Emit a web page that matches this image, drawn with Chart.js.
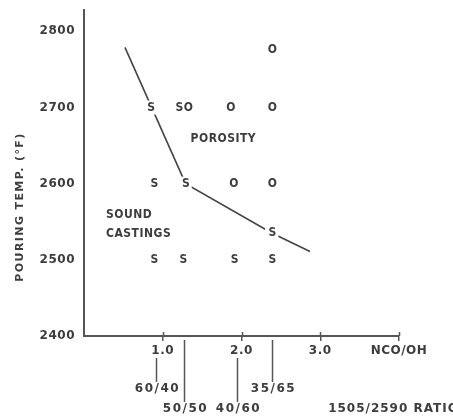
<!DOCTYPE html>
<html>
<head>
<meta charset="utf-8">
<script src="https://cdn.jsdelivr.net/npm/chart.js@4/dist/chart.umd.min.js"></script>
<style>
  html, body { margin: 0; padding: 0; background: #fff; }
  canvas { display: block; }
</style>
</head>
<body>
<canvas id="castChart" width="453" height="419"></canvas>
<script>
// sound castings (S)
const soundX = [0.85, 0.89, 1.29, 0.89, 1.26, 1.91, 2.39, 2.39];
const soundY = [2700, 2600, 2600, 2500, 2500, 2500, 2500, 2535];
// porous castings (O)
const porousX = [1.86, 2.39, 1.90, 2.39, 2.39];
const porousY = [2700, 2700, 2600, 2600, 2775];
// mixed result (SO)
const mixedX = [1.27];
const mixedY = [2700];
// boundary between sound and porous
const boundaryX = [0.52, 1.29, 2.39, 2.87];
const boundaryY = [2779, 2600, 2535, 2511];

// 1505/2590 ratios marked under the NCO/OH axis
const ratioX = [0.91, 1.27, 1.94, 2.39];
const ratioLabels = ['60/40', '50/50', '40/60', '35/65'];

const yTicks = [2400, 2500, 2600, 2700, 2800];
const xTicks = [1, 2, 3, 4];
const xTickLabels = ['1.0', '2.0', '3.0', 'NCO/OH'];

const regionText = [
    { text: 'POROSITY', x: 1.77, y: 2659, align: 'center' },
    { text: 'SOUND', x: 0.28, y: 2559, align: 'left' },
    { text: 'CASTINGS', x: 0.28, y: 2534, align: 'left' }
];

const INK = '#3d3d3d';
const WORD_FONT = 'bold 12px "DejaVu Sans Condensed", "DejaVu Sans", sans-serif';
const NUM_FONT = 'bold 12px "DejaVu Sans", sans-serif';

Chart.defaults.font.family = '"DejaVu Sans", sans-serif';
Chart.defaults.font.size = 12;
Chart.defaults.font.weight = 'bold';
Chart.defaults.color = INK;

const toPts = (xs, ys) => xs.map((x, i) => ({ x: x, y: ys[i] }));

// slightly spaced lettering for the tick numbers
const spacing = {
    id: 'spacing',
    beforeLayout(chart) { chart.ctx.letterSpacing = '0.5px'; },
    beforeDraw(chart) { chart.ctx.letterSpacing = '0.5px'; }
};

// letters S / O / SO drawn at each point position, plus the annotations
const letters = {
    id: 'letters',
    afterDatasetsDraw(chart) {
        const ctx = chart.ctx;
        const { x: xs, y: ys } = chart.scales;
        ctx.save();
        ctx.font = WORD_FONT;
        ctx.letterSpacing = '0.5px';
        ctx.textBaseline = 'middle';
        chart.data.datasets.forEach((ds, di) => {
            if (!ds.letter) return;
            chart.getDatasetMeta(di).data.forEach(pt => {
                const w = ctx.measureText(ds.letter).width;
                ctx.fillStyle = '#fff';
                ctx.fillRect(pt.x - w / 2 - 3, pt.y - 7, w + 5, 14);
                ctx.fillStyle = INK;
                ctx.textAlign = 'center';
                ctx.fillText(ds.letter, pt.x + 0.5, pt.y);
            });
        });
        regionText.forEach(r => {
            ctx.textAlign = r.align;
            ctx.fillText(r.text, xs.getPixelForValue(r.x), ys.getPixelForValue(r.y));
        });

        // y axis title
        ctx.save();
        ctx.translate(20, chart.chartArea.bottom - 129);
        ctx.rotate(-Math.PI / 2);
        ctx.textAlign = 'center';
        ctx.letterSpacing = '1.4px';
        ctx.font = 'bold 11px "DejaVu Sans", sans-serif';
        ctx.fillText('POURING TEMP. (\u00B0F)', 0, 0);
        ctx.restore();

        // small tick marks above the x axis
        const bottom = chart.chartArea.bottom;
        ctx.strokeStyle = '#555';
        ctx.lineWidth = 1.5;
        xTicks.forEach(v => {
            const px = Math.round(xs.getPixelForValue(v)) + 0.5;
            ctx.beginPath();
            ctx.moveTo(px, bottom - 4);
            ctx.lineTo(px, bottom);
            ctx.stroke();
        });

        // ratio markers below the axis
        ctx.font = NUM_FONT;
        ctx.letterSpacing = '1.5px';
        const rows = [0, 1, 1, 0];
        const lineTop = [22, 4, 22, 4];
        ratioX.forEach((v, i) => {
            const px = Math.round(xs.getPixelForValue(v)) + 0.5;
            const labelY = bottom + (rows[i] ? 73 : 53);
            ctx.beginPath();
            ctx.moveTo(px, bottom + lineTop[i]);
            ctx.lineTo(px, labelY - 7);
            ctx.stroke();
            ctx.textAlign = 'center';
            ctx.fillText(ratioLabels[i], px + 1, labelY);
        });
        ctx.letterSpacing = '1px';
        ctx.textAlign = 'left';
        ctx.fillText('1505/2590 RATIO', xs.getPixelForValue(3.1), bottom + 73);
        ctx.restore();
    }
};

new Chart(document.getElementById('castChart'), {
    type: 'scatter',
    data: {
        datasets: [
            {
                label: 'boundary',
                data: toPts(boundaryX, boundaryY),
                showLine: true,
                borderColor: '#444',
                borderWidth: 1.6,
                tension: 0,
                pointRadius: 0
            },
            { label: 'S', letter: 'S', data: toPts(soundX, soundY), pointRadius: 0 },
            { label: 'O', letter: 'O', data: toPts(porousX, porousY), pointRadius: 0 },
            { label: 'SO', letter: 'SO', data: toPts(mixedX, mixedY), pointRadius: 0 }
        ]
    },
    options: {
        responsive: false,
        animation: false,
        devicePixelRatio: 1,
        layout: { padding: { top: 10, right: 54, bottom: 0, left: 0 } },
        plugins: { legend: { display: false }, tooltip: { enabled: false } },
        scales: {
            x: {
                type: 'linear',
                min: 0,
                max: 4,
                afterBuildTicks: s => { s.ticks = xTicks.map(v => ({ value: v })); },
                afterFit: s => { s.height = 83; },
                ticks: {
                    padding: 3,
                    color: INK,
                    callback: v => xTickLabels[xTicks.indexOf(v)]
                },
                grid: { drawOnChartArea: false, drawTicks: true, tickLength: 5, color: '#555', lineWidth: 1.5 },
                border: { color: '#555', width: 2 }
            },
            y: {
                min: 2400,
                max: 2828,
                afterBuildTicks: s => { s.ticks = yTicks.map(v => ({ value: v })); },
                afterFit: s => { s.width = 84; s.paddingTop = 0; s.paddingBottom = 0; },
                ticks: { padding: 9, color: INK, callback: v => String(v) },
                grid: { drawOnChartArea: false, drawTicks: false },
                border: { color: '#555', width: 2 }
            }
        }
    },
    plugins: [spacing, letters]
});
</script>
</body>
</html>
